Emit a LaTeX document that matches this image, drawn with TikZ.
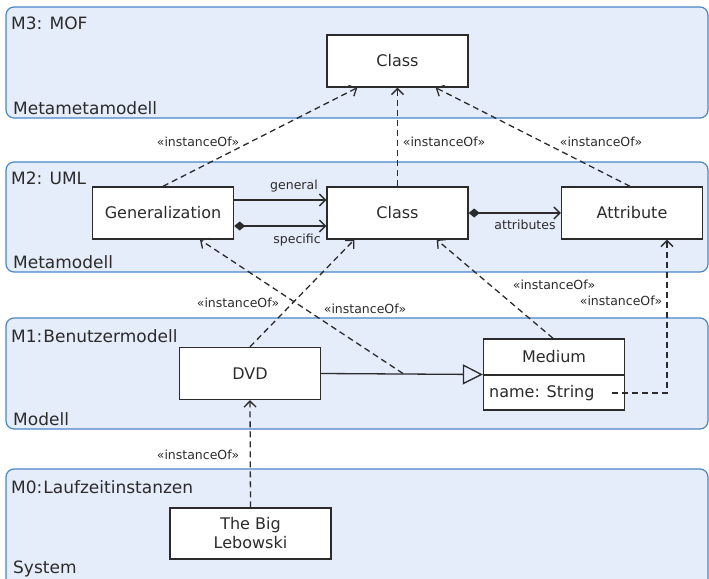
\documentclass[tikz,border=0pt]{standalone}
\usepackage{fontspec}
\setmainfont{DejaVu Sans}
\usetikzlibrary{arrows.meta}
\definecolor{layerfill}{HTML}{E5ECFA}
\definecolor{layerdraw}{HTML}{4A86C8}
\definecolor{ink}{HTML}{2B2B2B}
\begin{document}
\begin{tikzpicture}[x=1pt,y=-1pt,
 layer/.style={draw=layerdraw, fill=layerfill, line width=1.2pt, rounded corners=8pt},
 box/.style={draw=ink, fill=white, line width=1.4pt, minimum width=141pt, minimum height=52pt, inner sep=0pt, font=\fontsize{16}{19}\selectfont, text=ink, align=center},
 lbl/.style={font=\fontsize{17}{20}\selectfont, text=ink, anchor=base west, inner sep=0pt},
 small/.style={font=\fontsize{12.5}{15}\selectfont, text=ink, inner sep=0pt},
 inst/.style={draw=ink, line width=1.3pt, dash pattern=on 6pt off 4pt, -{Straight Barb[length=6pt,width=12pt]}},
 assoc/.style={draw=ink, line width=1.3pt, -{Straight Barb[length=6pt,width=12pt]}},
]
\useasboundingbox (0,0) rectangle (709,578);
% layers
\draw[layer] (6,7) rectangle (708,118);
\draw[layer] (6,162) rectangle (708,272);
\draw[layer] (6,318) rectangle (708,429);
\draw[layer] (6,469) rectangle (708,600);
\node[lbl] (m3a) at (11,30) {M3: MOF};
\node[lbl] (m3b) at (13,114) {Metametamodell};
\node[lbl] (m2a) at (11,184) {M2: UML};
\node[lbl] (m2b) at (13,268) {Metamodell};
\node[lbl] (m1a) at (11,342) {M1:\hspace{1pt}Benutzermodell};
\node[lbl] (m1b) at (13,425) {Modell};
\node[lbl] (m0a) at (11,493) {M0:\hspace{1pt}Laufzeitinstanzen};
\node[lbl] (m0b) at (13,573) {System};
% boxes
\node[box] (class3) at (397.5,61) {Class};
\node[box] (gen) at (163,213) {Generalization};
\node[box] (class2) at (397.5,213) {Class};
\node[box] (attr) at (632,213) {Attribute};
\node[box] (dvd) at (250,373.5) {DVD};
\node[box, minimum height=71pt] (medium) at (554,374.5) {};
\draw[draw=ink, line width=1.4pt] (medium.west |- 0,375) -- (medium.east |- 0,375);
\node[small, font=\fontsize{16}{19}\selectfont] (mtitle) at (554,357) {Medium};
\node[small, font=\fontsize{16}{19}\selectfont, anchor=west] (mattr) at (489,393) {name: String};
\node[box, minimum width=161pt, minimum height=51pt] (leb) at (250.5,533.5) {The Big\\Lebowski};
% M2 associations
\draw[assoc] ([yshift=13pt]gen.east) -- ([yshift=13pt]class2.west);
\draw[assoc, {Diamond[length=11pt,width=9pt]}-{Straight Barb[length=6pt,width=12pt]}] ([yshift=-13pt]gen.east) -- ([yshift=-13pt]class2.west);
\draw[assoc, {Diamond[length=11pt,width=9pt]}-{Straight Barb[length=6pt,width=12pt]}] (class2.east) -- (attr.west);
\node[small] (lgen) at (294,186) {general};
\node[small] (lspec) at (297,240) {specific};
\node[small] (lattr) at (525,225) {attributes};
% generalization DVD -> Medium
\draw[draw=ink, line width=1.3pt, -{Triangle[open,length=20pt,width=20pt]}] (dvd.east) -- (medium.west);
\coordinate (genmid) at (403,373.5);
% instanceOf
\draw[inst] (gen.north) -- ([xshift=31pt]class3.south west);
\draw[inst] (class2.north) -- (class3.south);
\draw[inst] ([xshift=-2pt]attr.north) -- ([xshift=-33pt]class3.south east);
\draw[inst] (dvd.north) -- ([xshift=28pt]class2.south west);
\draw[inst] (genmid) -- ([xshift=37pt]gen.south);
\draw[inst] ([xshift=-1pt]medium.north) -- ([xshift=-32pt]class2.south east);
\coordinate (attrstart) at (612,393);
\draw[inst] (attrstart) -| ([xshift=35pt]attr.south);
\draw[inst] (leb.north) -- (dvd.south);
\node[small] (i1) at (198,142) {«instanceOf»};
\node[small] (i2) at (444,142) {«instanceOf»};
\node[small] (i3) at (601,142) {«instanceOf»};
\node[small] (i4) at (238,303) {«instanceOf»};
\node[small] (i5) at (365,309) {«instanceOf»};
\node[small] (i6) at (554,285) {«instanceOf»};
\node[small] (i7) at (621,301) {«instanceOf»};
\node[small] (i8) at (198,455) {«instanceOf»};
\end{tikzpicture}
\end{document}
